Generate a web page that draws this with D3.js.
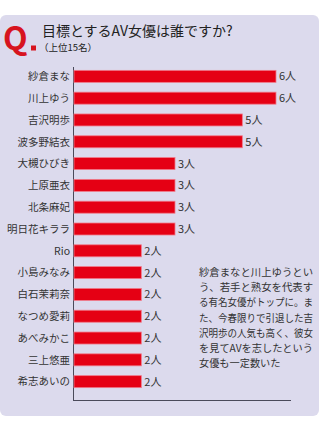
<!DOCTYPE html>
<html>
<head>
<meta charset="utf-8">
<script src="https://cdn.jsdelivr.net/npm/d3@7"></script>
<style>
  html, body { margin: 0; padding: 0; background: #fff; }
  svg { display: block; }
  text { font-family: "Noto Sans CJK JP", "Noto Sans", sans-serif; }
</style>
</head>
<body>
<div id="chart"></div>
<script>
// data
const names = ["紗倉まな", "川上ゆう", "吉沢明歩", "波多野結衣", "大槻ひびき", "上原亜衣", "北条麻妃", "明日花キララ",
    "Rio", "小島みなみ", "白石茉莉奈", "なつめ愛莉", "あべみかこ", "三上悠亜", "希志あいの"]
const counts = [6, 6, 5, 5, 3, 3, 3, 3, 2, 2, 2, 2, 2, 2, 2]
const title = "目標とするAV女優は誰ですか?"
const subtitle = "（上位15名）"
const note = ["紗倉まなと川上ゆうとい", "う、若手と熟女を代表す", "る有名女優がトップに。ま",
    "た、今春限りで引退した吉", "沢明歩の人気も高く、彼女", "を見てAVを志したという", "女優も一定数いた"]

const dimensions = { width: 320, height: 423 }

const svg = d3.select("#chart")
    .append("svg")
    .attr("width", dimensions.width)
    .attr("height", dimensions.height)

// panel
svg.append("rect")
    .attr("x", 0).attr("y", 15)
    .attr("width", 319).attr("height", 401)
    .attr("rx", 6)
    .attr("fill", "#dcdaed")

// header
svg.append("text")
    .attr("x", 3).attr("y", 50)
    .attr("fill", "#d7141f")
    .attr("font-size", 32)
    .attr("font-weight", "bold")
    .attr("font-family", "Liberation Sans, Arial, sans-serif")
    .text("Q")
svg.append("rect")
    .attr("x", 31).attr("y", 45.5)
    .attr("width", 5).attr("height", 5)
    .attr("fill", "#d7141f")
svg.append("text")
    .attr("x", 42).attr("y", 36)
    .attr("fill", "#222")
    .attr("font-size", 14)
    .text(title)
svg.append("text")
    .attr("x", 39).attr("y", 51)
    .attr("fill", "#222")
    .attr("font-size", 9.5)
    .text(subtitle)

// scales
const x = d3.scaleLinear().domain([0, 6]).range([74, 276])
const y = d3.scaleBand().domain(names).range([66, 392]).paddingInner(0.45).paddingOuter(0.2)

// axis lines
svg.append("line")
    .attr("x1", 73.5).attr("x2", 73.5)
    .attr("y1", 67).attr("y2", 400.5)
    .attr("stroke", "#4a4a5a").attr("stroke-width", 1)
svg.append("line")
    .attr("x1", 73).attr("x2", 291)
    .attr("y1", 400.5).attr("y2", 400.5)
    .attr("stroke", "#4a4a5a").attr("stroke-width", 1)

// bars
const rows = svg.append("g")
    .selectAll("g")
    .data(names.map((n, i) => ({ name: n, value: counts[i] })))
    .join("g")

rows.append("rect")
    .attr("x", x(0))
    .attr("y", d => y(d.name))
    .attr("width", d => x(d.value) - x(0))
    .attr("height", y.bandwidth())
    .attr("fill", "#e50014")
    .attr("stroke", "#f07a8a")
    .attr("stroke-width", 0.8)

rows.append("text")
    .attr("x", 70)
    .attr("y", d => y(d.name) + y.bandwidth() / 2)
    .attr("dy", "0.36em")
    .attr("text-anchor", "end")
    .attr("fill", "#333")
    .attr("font-size", 10.5)
    .text(d => d.name)

rows.append("text")
    .attr("x", d => x(d.value) + 3)
    .attr("y", d => y(d.name) + y.bandwidth() / 2)
    .attr("dy", "0.36em")
    .attr("fill", "#333")
    .attr("font-size", 11)
    .text(d => d.value + "人")

// note (the original uses proportional kana, so squeeze full lines to the column width)
svg.append("g")
    .selectAll("text")
    .data(note)
    .join("text")
    .attr("x", 199)
    .attr("y", (d, i) => 276 + i * 15.2)
    .attr("fill", "#333")
    .attr("font-size", 10.2)
    .attr("textLength", (d, i) => i < note.length - 1 ? 114 : null)
    .attr("lengthAdjust", "spacingAndGlyphs")
    .text(d => d)
</script>
</body>
</html>
